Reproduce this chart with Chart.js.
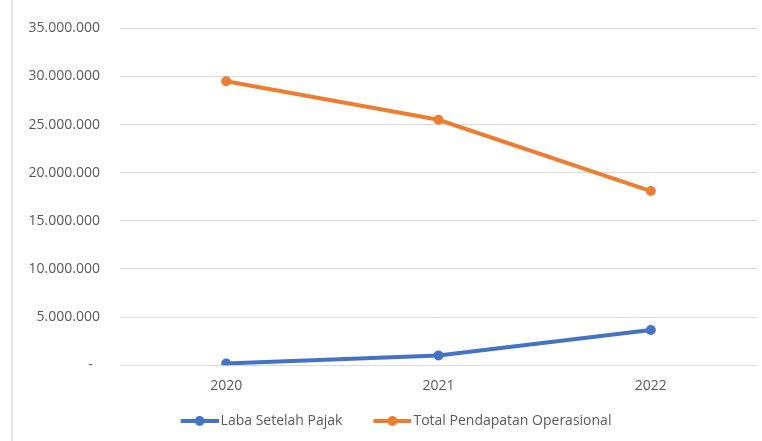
<!DOCTYPE html>
<html>
<head>
<meta charset="utf-8">
<script src="https://cdn.jsdelivr.net/npm/chart.js@4/dist/chart.umd.min.js"></script>
<style>
  html, body { margin: 0; padding: 0; background: #ffffff; }
  #wrap { width: 762px; height: 441px; position: relative; }
</style>
</head>
<body>
<div id="wrap"><canvas id="c"></canvas></div>
<script>
const categories = ['2020', '2021', '2022'];
const labaSetelahPajak = [180000, 1000000, 3650000];
const totalPendapatanOperasional = [29500000, 25500000, 18100000];
const seriesNames = ['Laba Setelah Pajak', 'Total Pendapatan Operasional'];
const yTicks = [0, 5000000, 10000000, 15000000, 20000000, 25000000, 30000000, 35000000];

const BLUE = '#4472C4';
const ORANGE = '#ED7D31';
const TEXT = '#595959';

function legendMarker(color) {
  const cv = document.createElement('canvas');
  cv.width = 64; cv.height = 12;
  const g = cv.getContext('2d');
  g.strokeStyle = color; g.lineWidth = 4; g.lineCap = 'butt';
  g.beginPath(); g.moveTo(26, 6); g.lineTo(64, 6); g.stroke();
  g.fillStyle = color;
  g.beginPath(); g.arc(45, 6, 5, 0, Math.PI * 2); g.fill();
  return cv;
}
const markers = [legendMarker(BLUE), legendMarker(ORANGE)];

function fmt(v) {
  if (v === 0) return '-  ';
  return String(v).replace(/\B(?=(\d{3})+(?!\d))/g, '.');
}

const leftLine = {
  id: 'leftLine',
  afterLayout(chart) {
    if (chart.legend) { chart.legend.left += 7; chart.legend.right += 7; }
  },
  beforeDraw(chart) {
    const ctx = chart.ctx;
    ctx.save();
    ctx.strokeStyle = '#e3e3e3';
    ctx.lineWidth = 2;
    ctx.beginPath(); ctx.moveTo(12, 0); ctx.lineTo(12, 441); ctx.stroke();
    ctx.restore();
  }
};

new Chart(document.getElementById('c'), {
  type: 'line',
  data: {
    labels: categories,
    datasets: [
      { label: seriesNames[0], data: labaSetelahPajak, borderColor: BLUE, backgroundColor: BLUE,
        borderWidth: 4, pointRadius: 5, pointHoverRadius: 5, pointBorderWidth: 0, tension: 0 },
      { label: seriesNames[1], data: totalPendapatanOperasional, borderColor: ORANGE, backgroundColor: ORANGE,
        borderWidth: 4, pointRadius: 5, pointHoverRadius: 5, pointBorderWidth: 0, tension: 0 }
    ]
  },
  options: {
    responsive: true,
    maintainAspectRatio: false,
    animation: false,
    devicePixelRatio: 1,
    layout: { padding: { left: 0, right: 5, top: 22, bottom: 3 } },
    plugins: {
      tooltip: { enabled: false },
      legend: {
        position: 'bottom',
        labels: {
          color: TEXT,
          font: { family: 'Open Sans', size: 14 },
          usePointStyle: true,
          pointStyleWidth: 54,
          boxHeight: 12,
          padding: 10,
          generateLabels(chart) {
            return chart.data.datasets.map((ds, i) => ({
              text: ds.label,
              fontColor: TEXT,
              pointStyle: markers[i],
              strokeStyle: ds.borderColor,
              fillStyle: ds.backgroundColor,
              lineWidth: 0,
              datasetIndex: i,
              hidden: false
            }));
          }
        }
      }
    },
    scales: {
      x: {
        offset: true,
        grid: { display: false },
        border: { display: false },
        afterFit(scale) { scale.height += 6; },
        ticks: { color: TEXT, font: { family: 'Open Sans', size: 14 }, padding: 4 }
      },
      y: {
        min: 0,
        max: 35000000,
        afterBuildTicks(scale) { scale.ticks = yTicks.map(v => ({ value: v })); },
        afterFit(scale) { scale.width = 120; },
        grid: { color: '#d9d9d9', lineWidth: 1, drawTicks: false },
        border: { display: false },
        ticks: { color: TEXT, font: { family: 'Open Sans', size: 14 }, padding: 20, callback: (v) => fmt(v) }
      }
    }
  },
  plugins: [leftLine]
});
</script>
</body>
</html>
